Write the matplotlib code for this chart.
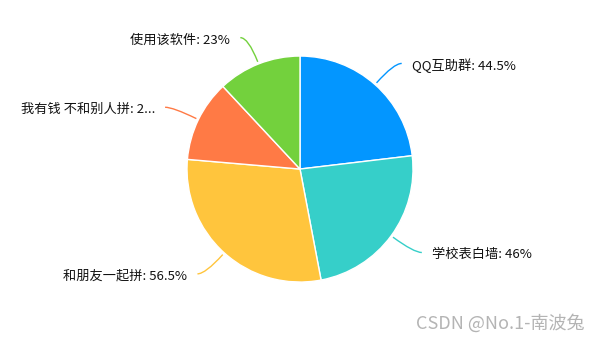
import numpy as np
import matplotlib.pyplot as plt
from matplotlib.path import Path
from matplotlib.patches import PathPatch

plt.rcParams['font.family'] = ['Noto Sans CJK SC', 'DejaVu Sans']

# 数据
names = ['QQ互助群', '学校表白墙', '和朋友一起拼', '我有钱 不和别人拼', '使用该软件']
values = [44.5, 46, 56.5, 22.5, 23]
labels = ['QQ互助群: 44.5%', '学校表白墙: 46%', '和朋友一起拼: 56.5%',
          '我有钱 不和别人拼: 2...', '使用该软件: 23%']
colors = ['#0396FF', '#36CFC9', '#FFC53D', '#FF7A45', '#73D13D']

fig = plt.figure(figsize=(6, 3.4), dpi=100)
ax = fig.add_axes([0, 0, 1, 1])

wedges, _ = ax.pie(values, colors=colors, startangle=90, counterclock=False,
                   radius=1, wedgeprops=dict(edgecolor='white', linewidth=1))

# 标签引导线
for w, lab, c in zip(wedges, labels, colors):
    ang = np.deg2rad((w.theta1 + w.theta2) / 2)
    cx, cy = np.cos(ang), np.sin(ang)
    p1 = (1.02 * cx, 1.02 * cy)
    p2 = (1.25 * cx, 1.25 * cy)
    side = 1 if cx >= 0 else -1
    p3 = (p2[0] + side * 0.07, p2[1])
    path = Path([p1, p2, p3], [Path.MOVETO, Path.CURVE3, Path.CURVE3])
    ax.add_patch(PathPatch(path, fill=False, edgecolor=c, linewidth=1))
    ax.text(p3[0] + side * 0.09, p3[1] - 0.02, lab, fontsize=9.5, color='#111111',
            ha='left' if side > 0 else 'right', va='center')

ax.set_xlim(-2.655, 2.655)
ax.set_ylim(-1.513, 1.496)
ax.set_aspect('equal')
ax.axis('off')

fig.text(0.975, 0.05, 'CSDN @No.1-南波兔', fontsize=13, color='#b4b4b4',
         ha='right', va='center')

plt.savefig('out.png', dpi=100)
plt.close('all')
